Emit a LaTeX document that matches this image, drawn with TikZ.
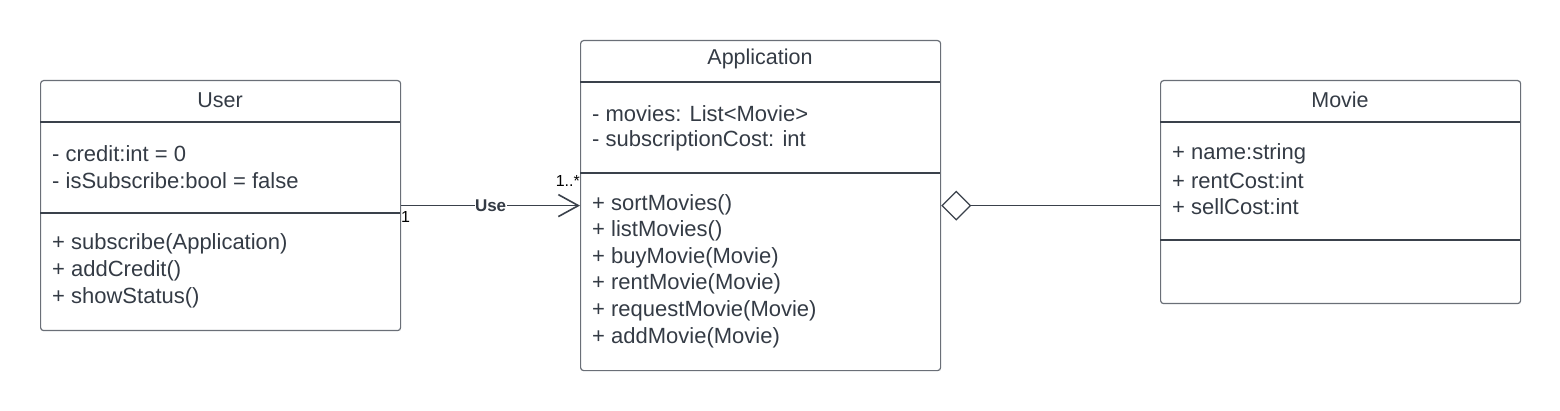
\documentclass[tikz,border=0pt]{standalone}
\usepackage{fontspec}
\setmainfont{Liberation Sans}
\usetikzlibrary{arrows.meta}
\definecolor{txt}{HTML}{343B45}
\definecolor{brd}{HTML}{6A6F77}
\definecolor{ln}{HTML}{3A414B}
\tikzset{
  umlbox/.style={draw=brd, line width=1.2pt, rounded corners=3pt, anchor=north west, inner sep=0pt},
  sep/.style={draw=ln, line width=1.1pt},
  title/.style={font=\fontsize{21.5}{26}\selectfont, text=txt, inner sep=0pt},
  member/.style={font=\fontsize{22}{26}\selectfont, text=txt, anchor=west, inner sep=0pt, yshift=-1.5pt},
  mult/.style={font=\fontsize{16}{19}\selectfont, text=black, inner sep=0pt},
  conn/.style={draw=ln, line width=1.8pt},
}
\begin{document}
\begin{tikzpicture}[x=1pt,y=-1pt]
\useasboundingbox (0,0) rectangle (1560,411);
% User
\node[umlbox, minimum width=360pt, minimum height=250pt] (user) at (40,80) {};
\node[title] (userT) at (220,100) {User};
\draw[sep] (40,122) -- (400,122);
\node[member] (u1) at (52,152) {- credit:int = 0};
\node[member] (u2) at (52,179) {- isSubscribe:bool = false};
\draw[sep] (40,213) -- (400,213);
\node[member] (u3) at (52,242) {+ subscribe(Application)};
\node[member] (u4) at (52,269) {+ addCredit()};
\node[member] (u5) at (52,296) {+ showStatus()};
% Application
\node[umlbox, minimum width=360pt, minimum height=330pt] (app) at (580,40) {};
\node[title] (appT) at (760,59) {Application};
\draw[sep] (580,82) -- (940,82);
\node[member] (a1) at (592,112) {- movies: List<Movie>};
\node[member] (a2) at (592,139) {- subscriptionCost: int};
\draw[sep] (580,173) -- (940,173);
\node[member] (a3) at (592,203) {+ sortMovies()};
\node[member] (a4) at (592,229) {+ listMovies()};
\node[member] (a5) at (592,256) {+ buyMovie(Movie)};
\node[member] (a6) at (592,282) {+ rentMovie(Movie)};
\node[member] (a7) at (592,309) {+ requestMovie(Movie)};
\node[member] (a8) at (592,336) {+ addMovie(Movie)};
% Movie
\node[umlbox, minimum width=360pt, minimum height=223pt] (movie) at (1160,80) {};
\node[title] (movT) at (1340,100) {Movie};
\draw[sep] (1160,122) -- (1520,122);
\node[member] (m1) at (1172,152) {+ name:string};
\node[member] (m2) at (1172,179) {+ rentCost:int};
\node[member] (m3) at (1172,205) {+ sellCost:int};
\draw[sep] (1160,240) -- (1520,240);
% connectors
\draw[conn, -{Straight Barb[length=20pt,width=22pt,line width=1.6pt]}] (user.east) -- node[pos=0.5, fill=white, inner sep=0.3pt, font=\bfseries\fontsize{17}{20}\selectfont, text=txt] (use) {Use} (app.west);
\node[mult, anchor=north west] (m1l) at (401,211) {1};
\node[mult, anchor=south east] (mstar) at (580,187) {1..*};
\coordinate (movL) at (movie.west |- app.east);
\draw[draw=ln, line width=1.2pt, {Diamond[open, length=30pt, width=30pt, line width=1.2pt]}-] (app.east) -- (movL);
\end{tikzpicture}
\end{document}
